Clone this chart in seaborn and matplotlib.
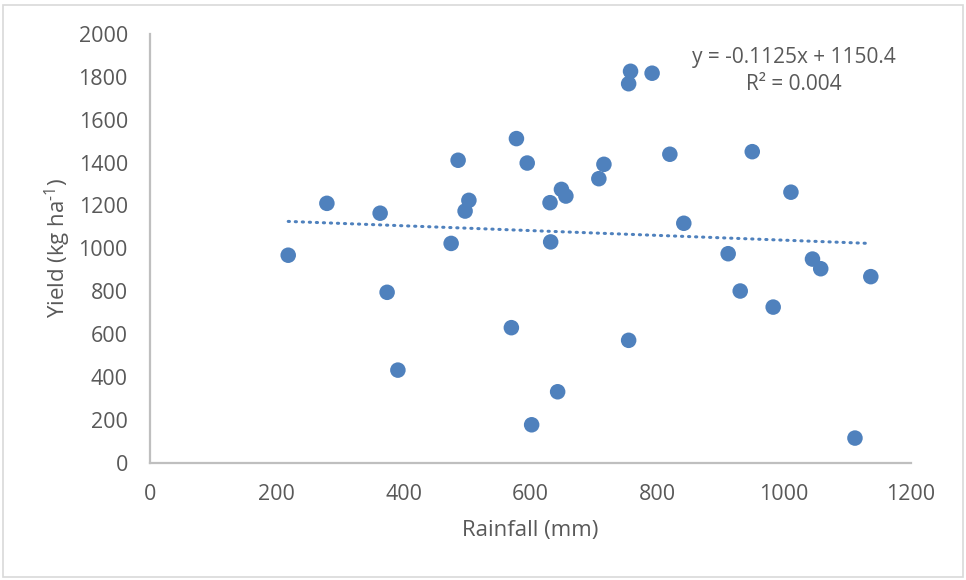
import numpy as np
import pandas as pd
import matplotlib
matplotlib.use("Agg")
import matplotlib.pyplot as plt
import seaborn as sns
from matplotlib.patches import Rectangle

rainfall = [218, 279, 363, 374, 391, 475, 486, 503, 497, 578, 595, 570, 602,
            631, 632, 649, 656, 643, 708, 716, 755, 758, 792, 755, 820, 842,
            912, 931, 950, 983, 1011, 1045, 1058, 1112, 1137]
yield_kg = [968, 1210, 1164, 795, 432, 1023, 1411, 1224, 1174, 1512, 1398, 630, 177,
            1213, 1030, 1275, 1244, 331, 1325, 1392, 1768, 1826, 1817, 571, 1439, 1117,
            975, 801, 1451, 726, 1262, 950, 905, 115, 868]
x_ticks = [0, 200, 400, 600, 800, 1000, 1200]
y_ticks = [0, 200, 400, 600, 800, 1000, 1200, 1400, 1600, 1800, 2000]
equation_text = "y = -0.1125x + 1150.4"
r2_text = "R² = 0.004"

df = pd.DataFrame({"Rainfall": rainfall, "Yield": yield_kg})

sns.set_theme(style="white")
plt.rcParams["font.family"] = ["Open Sans", "DejaVu Sans"]
plt.rcParams["mathtext.fontset"] = "custom"
plt.rcParams["mathtext.rm"] = "Open Sans"
plt.rcParams["mathtext.it"] = "Open Sans"

text_color = "#595959"
point_color = "#4F81BD"

fig = plt.figure(figsize=(9.66, 5.80), dpi=100)
ax = fig.add_axes([0.1553, 0.2022, 0.9428 - 0.1553, 0.9414 - 0.2022])

sns.scatterplot(data=df, x="Rainfall", y="Yield", ax=ax, s=125, color=point_color,
                edgecolor="none", linewidth=0, zorder=3)
sns.regplot(data=df, x="Rainfall", y="Yield", ax=ax, scatter=False, ci=None,
            truncate=True, color=point_color,
            line_kws={"linestyle": (0, (0.4, 1.9)), "linewidth": 2.2,
                      "dash_capstyle": "round", "zorder": 2})

ax.set_xlim(0, 1200)
ax.set_ylim(0, 2000)
ax.set_xticks(x_ticks)
ax.set_yticks(y_ticks)
ax.set_xticklabels([str(t) for t in x_ticks])
ax.set_yticklabels([str(t) for t in y_ticks])
ax.tick_params(axis="both", length=0, labelsize=15.5, colors=text_color)
ax.tick_params(axis="y", pad=16)
ax.tick_params(axis="x", pad=15)

for side in ["top", "right"]:
    ax.spines[side].set_visible(False)
for side in ["left", "bottom"]:
    ax.spines[side].set_color("#BFBFBF")
    ax.spines[side].set_linewidth(1.6)

ax.set_xlabel("Rainfall (mm)", fontsize=16, color=text_color, va="center")
ax.set_ylabel(r"Yield (kg ha$^{\text{-1}}$)", fontsize=16, color=text_color, va="center")
ax.xaxis.set_label_coords(0.4995, -0.159)
ax.yaxis.set_label_coords(-0.1206, 0.5)

ax.text(794 / 966, 1 - 57 / 580, equation_text, transform=fig.transFigure,
        ha="center", va="center", fontsize=15, color=text_color)
ax.text(794 / 966, 1 - 85 / 580, r2_text, transform=fig.transFigure,
        ha="center", va="center", fontsize=15, color=text_color)

fig.patches.append(Rectangle((3 / 966, 3 / 580), 960 / 966, 572 / 580,
                             transform=fig.transFigure, fill=False,
                             edgecolor="#D9D9D9", linewidth=1.2))

fig.savefig("out.png", dpi=100, facecolor="white")
